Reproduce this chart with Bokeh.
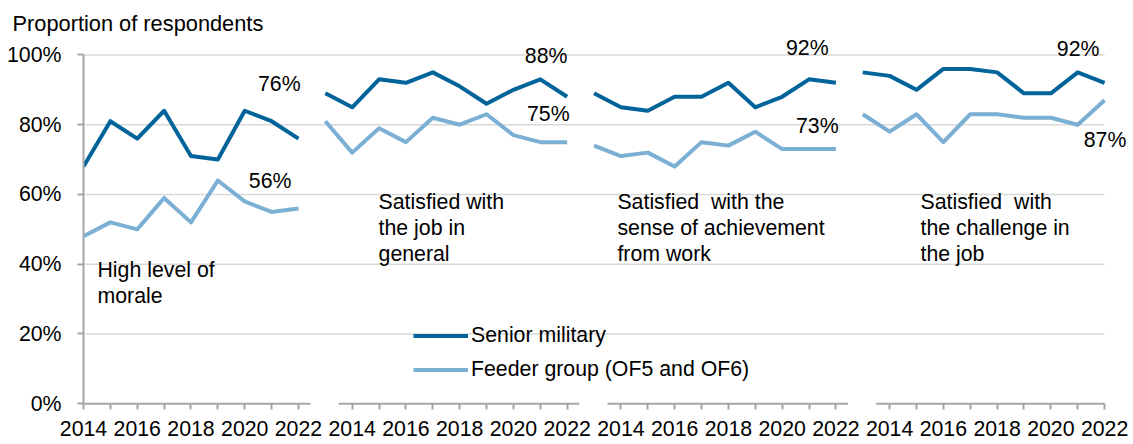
from bokeh.plotting import figure
from bokeh.models import (Range1d, FixedTicker, Label, LabelSet, ColumnDataSource,
                          Legend, LegendItem)
from bokeh.core.properties import value
from bokeh.embed import file_html
from bokeh.resources import INLINE

# ---------------- data ----------------
years = [2014, 2015, 2016, 2017, 2018, 2019, 2020, 2021, 2022]
series_names = ["Senior military", "Feeder group (OF5 and OF6)"]
panel_titles = [
    "High level of\nmorale",
    "Satisfied with\nthe job in\ngeneral",
    "Satisfied\u00a0 with the\nsense of achievement\nfrom work",
    "Satisfied\u00a0 with\nthe challenge in\nthe job",
]
senior_morale = [68, 81, 76, 84, 71, 70, 84, 81, 76]
feeder_morale = [48, 52, 50, 59, 52, 64, 58, 55, 56]
senior_job = [89, 85, 93, 92, 95, 91, 86, 90, 93, 88]
feeder_job = [81, 72, 79, 75, 82, 80, 83, 77, 75, 75]
senior_achievement = [89, 85, 84, 88, 88, 92, 85, 88, 93, 92]
feeder_achievement = [74, 71, 72, 68, 75, 74, 78, 73, 73, 73]
senior_challenge = [95, 94, 90, 96, 96, 95, 89, 89, 95, 92]
feeder_challenge = [83, 78, 83, 75, 83, 83, 82, 82, 80, 87]
y_ticks = [0, 20, 40, 60, 80, 100]

senior = [senior_morale, senior_job, senior_achievement, senior_challenge]
feeder = [feeder_morale, feeder_job, feeder_achievement, feeder_challenge]

# ---------------- style ----------------
DARK = "#00639a"
LIGHT = "#7bafd4"
GRID = "#d9d9d9"
AXIS = "#a6a6a6"
FONT = "Liberation Sans"
FS = "21.3px"

# label placement offsets (category units, percentage points) relative to last point
label_off_senior = [(0.08, 15.7), (0.01, 11.7), (-0.27, 9.9), (-0.19, 9.7)]
label_off_feeder = [(-0.26, 7.9), (0.09, 8.1), (0.10, 6.7), (0.81, -11.5)]
title_pos = [(0.52, 41.8), (10.98, 61.3), (19.87, 61.3), (31.15, 61.3)]

n = len(years)
step = n + 1
last_cat = 3 * step + n - 1

p = figure(width=1133, height=444, frame_width=1045, frame_height=368,
           min_border_left=83, min_border_right=5, min_border_top=37, min_border_bottom=39,
           x_range=Range1d(0, 38.89), y_range=Range1d(-0.5, 105),
           output_backend="svg", toolbar_location=None)
p.outline_line_color = None
p.background_fill_color = "white"
p.border_fill_color = "white"

# chart title
p.title.text = "Proportion of respondents"
p.title.align = "left"
p.title.offset = -71
p.title.standoff = 3
p.title.text_font = FONT
p.title.text_font_size = "21.8px"
p.title.text_font_style = "normal"
p.title.text_color = "black"

# grid (drawn as segments so they stop at the last category)
p.xgrid.grid_line_color = None
p.ygrid.grid_line_color = None
gy = [t for t in y_ticks if t > 0]
p.segment(x0=[0] * len(gy), y0=gy, x1=[last_cat] * len(gy), y1=gy,
          line_color=GRID, line_width=1.5)

# y axis
ya = p.yaxis[0]
ya.ticker = FixedTicker(ticks=y_ticks)
ya.bounds = (0, 100)
ya.major_label_overrides = {t: f"{t}%" for t in y_ticks}
ya.axis_line_color = AXIS
ya.axis_line_width = 2
ya.major_tick_line_color = AXIS
ya.major_tick_line_width = 2
ya.major_tick_out = 6
ya.major_tick_in = 0
ya.minor_tick_line_color = None
ya.major_label_standoff = 16
ya.major_label_text_font = FONT
ya.major_label_text_font_size = FS
ya.major_label_text_color = "black"

# x axis (ticks + labels only; line segments drawn per panel)
ticks = []
overrides = {}
for k in range(4):
    for j, yr in enumerate(years):
        t = k * step + j
        ticks.append(t)
        overrides[t] = str(yr) if j % 2 == 0 else ""
xa = p.xaxis[0]
xa.ticker = FixedTicker(ticks=ticks)
xa.major_label_overrides = overrides
xa.axis_line_color = None
xa.major_tick_line_color = AXIS
xa.major_tick_line_width = 2
xa.major_tick_out = 4
xa.major_tick_in = 2
xa.minor_tick_line_color = None
xa.major_label_standoff = 11
xa.major_label_text_font = FONT
xa.major_label_text_font_size = FS
xa.major_label_text_color = "black"

seg_x0 = [0 if k == 0 else k * step - 0.5 for k in range(4)]
seg_x1 = [min(k * step + n - 0.55, last_cat) for k in range(4)]
p.segment(x0=seg_x0, y0=[0] * 4, x1=seg_x1, y1=[0] * 4, line_color=AXIS, line_width=2)

# lines
first_renderers = []
lab_x, lab_y, lab_t = [], [], []
for k in range(4):
    for vals, col, offs in ((senior[k], DARK, label_off_senior),
                            (feeder[k], LIGHT, label_off_feeder)):
        xs = [k * step + n - len(vals) + i for i in range(len(vals))]
        r = p.line(xs, vals, line_color=col, line_width=4, line_join="round")
        if k == 0:
            first_renderers.append(r)
        dx, dy = offs[k]
        lab_x.append(xs[-1] + dx)
        lab_y.append(vals[-1] + dy)
        lab_t.append(f"{vals[-1]}%")

src = ColumnDataSource(dict(x=lab_x, y=lab_y, t=lab_t))
p.add_layout(LabelSet(x="x", y="y", text="t", source=src, text_align="right",
                      text_baseline="middle", text_font=value(FONT),
                      text_font_size=value(FS), text_color="black"))

# panel titles
for (tx, ty), txt in zip(title_pos, panel_titles):
    p.add_layout(Label(x=tx, y=ty, text=txt, text_align="left", text_baseline="top",
                       text_font=FONT, text_font_size=FS, text_color="black",
                       text_line_height=1.08))

# legend
legend = Legend(items=[LegendItem(label=series_names[0], renderers=[first_renderers[0]]),
                       LegendItem(label=series_names[1], renderers=[first_renderers[1]])],
                location=(330, 23), padding=0, margin=0, spacing=9,
                glyph_width=55, glyph_height=25, label_height=25, label_standoff=3,
                label_text_font=FONT, label_text_font_size=FS, label_text_color="black",
                border_line_color=None, background_fill_alpha=0)
p.add_layout(legend)

open("out.html", "w").write(file_html(p, INLINE))
